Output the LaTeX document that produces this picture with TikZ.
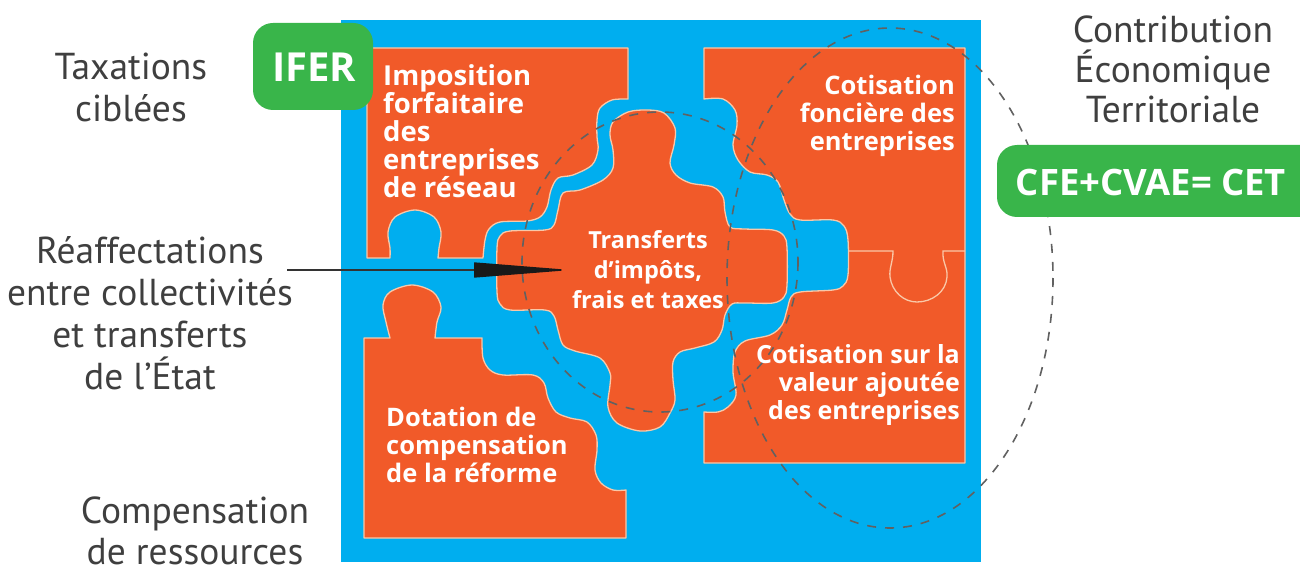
\documentclass[tikz,border=0pt]{standalone}
\usepackage{fontspec}
\setmainfont{PT Sans}
\newfontfamily\boldf{Open Sans}
\usetikzlibrary{arrows.meta}
\definecolor{skyb}{HTML}{00AEEF}
\definecolor{orng}{HTML}{F15A29}
\definecolor{grn}{HTML}{39B54A}
\definecolor{txt}{HTML}{3F3F3F}
\definecolor{edge}{HTML}{F9C8A8}
\tikzset{
  piece/.style={fill=orng,draw=edge,line width=1.3pt,line join=round},
  seam/.style={draw=edge,line width=1.3pt},
  zone/.style={draw=black!62,line width=1.6pt,dash pattern=on 9pt off 9pt},
  greybox/.style={draw=none,fill=grn,rounded corners=20pt},
  lab/.style={text=txt,align=center,inner sep=0pt,font=\fontsize{37.5}{42}\selectfont},
  wl/.style={text=white,inner sep=0pt,font=\boldf\fontsize{25.5}{28}\selectfont\bfseries},
  gl/.style={text=white,inner sep=0pt,font=\boldf\fontsize{36.4}{40}\selectfont\bfseries},
}
\begin{document}
\begin{tikzpicture}[x=1pt,y=-1pt]
\useasboundingbox (0,0) rectangle (1300,569);
\fill[skyb] (341,20) rectangle (981,562);
% top-left piece
\path[piece] (367,48) -- (628,48) -- (628,99) -- plot[smooth,tension=.55] coordinates {(628,99) (612,100) (600,108) (597,120) (597,137) (598,150) (592,165) (573,175) (558,178) (551,190) (547,207) (540,217) (527,221) (500,222) (489,229) (485,240) (483,258)} -- (438,258) -- plot[smooth,tension=.55] coordinates {(438,258) (439,248) (441,232) (434,217) (415,210) (395,217) (388,232) (390,248) (390,258)} -- (367,258) -- cycle;
% top-right piece
\path[piece] (704,48) -- (965,48) -- (965,463) -- (704,463) -- (704,412) -- plot[smooth,tension=.55] coordinates {(704,412) (718,412) (728,407) (736,395) (733,372) (735,352) (745,341) (770,335) (782,325) (787,310) (791,297) (800,292) (833,290) (843,286) (848,275) (848,240) (844,226) (833,220) (800,220) (790,214) (784,200) (778,182) (767,175) (750,172) (738,160) (733,145) (737,125) (735,110) (723,99) (704,99)} -- cycle;
\draw[seam] (848,251) -- (893,251) .. controls (893,262) and (889,268) .. (890,277) .. controls (892,292) and (904,302) .. (917,302) .. controls (932,302) and (946,292) .. (947,277) .. controls (948,268) and (942,262) .. (943,251) -- (965,251);
% bottom-left piece
\path[piece] (364,338) -- (390,338) -- plot[smooth,tension=.55] coordinates {(390,338) (386,322) (383,305) (390,292) (412,285) (433,292) (441,307) (437,322) (435,338)} -- (482,338) -- plot[smooth,tension=.55] coordinates {(482,338) (483,358) (490,370) (503,375) (533,375) (544,383) (548,398) (556,412) (570,418) (587,422) (596,435) (597,450) (595,470) (601,483) (613,490) (626,490)} -- (626,538) -- (364,538) -- cycle;
% centre piece
\path[piece] plot[smooth cycle,tension=.55] coordinates {(647,110) (664,113) (675,128) (674,145) (670,163) (676,175) (690,183) (713,187) (723,197) (725,212) (730,227) (745,229) (773,230) (784,236) (787,248) (787,285) (784,297) (773,303) (745,303) (732,304) (725,315) (722,330) (714,342) (695,348) (680,352) (673,362) (673,380) (675,400) (670,413) (660,427) (640,431) (617,423) (608,407) (610,385) (610,373) (600,358) (575,351) (563,345) (558,330) (554,316) (545,310) (510,310) (500,304) (497,292) (497,248) (500,236) (510,231) (545,230) (554,225) (558,210) (563,193) (580,190) (603,180) (613,168) (613,150) (610,135) (613,122) (628,112)};
% dashed zones
\draw[zone] (660,262) ellipse [x radius=138,y radius=150];
\draw[zone] (890,278) ellipse [x radius=163,y radius=250];
% arrow
\coordinate (from) at (287,270);
\coordinate (to) at (571,270);
\draw[black!80,line width=1.5pt,-{Triangle[length=97pt,width=15pt,black!90]}] (from) -- (to);
% green boxes
\node[greybox,minimum width=120pt,minimum height=87pt,inner sep=0pt] (ifer) at (313,66.5) {};
\node[gl,font=\boldf\fontsize{40}{40}\selectfont\bfseries] (iferT) at (314,67) {IFER};
\path[fill=grn,rounded corners=20pt] (997,145) rectangle (1340,217);
\node[gl,anchor=center] (cet) at (1151,182) {CFE+CVAE= CET};
% grey labels
\node[lab] (tax) at (131,87) {Taxations\\ciblées};
\node[lab] (rea) at (150,313) {Réaffectations\\entre collectivités\\et transferts\\de l’État};
\node[lab,font=\fontsize{37.5}{41}\selectfont] (comp) at (195,531) {Compensation\\de ressources};
\node[lab,font=\fontsize{37.5}{40}\selectfont] (cont) at (1173,69) {Contribution\\Économique\\Territoriale};
% white labels
\node[wl,anchor=west,align=left,font=\boldf\fontsize{27.5}{28}\selectfont\bfseries] (imp) at (383,131) {Imposition\\forfaitaire\\des\\entreprises\\de réseau};
\node[wl,anchor=east,align=right] (cfe) at (955,116) {Cotisation\\foncière des\\entreprises};
\node[wl,align=center,font=\boldf\fontsize{23.5}{30}\selectfont\bfseries] (tr) at (648,270) {Transferts\\d’impôts,\\frais et taxes};
\node[wl,anchor=east,align=right,font=\boldf\fontsize{25}{28}\selectfont\bfseries] (cvae) at (960,385) {Cotisation sur la\\valeur ajoutée\\des entreprises};
\node[wl,anchor=west,align=left] (dot) at (386,445) {Dotation de\\compensation\\de la réforme};
\end{tikzpicture}
\end{document}
